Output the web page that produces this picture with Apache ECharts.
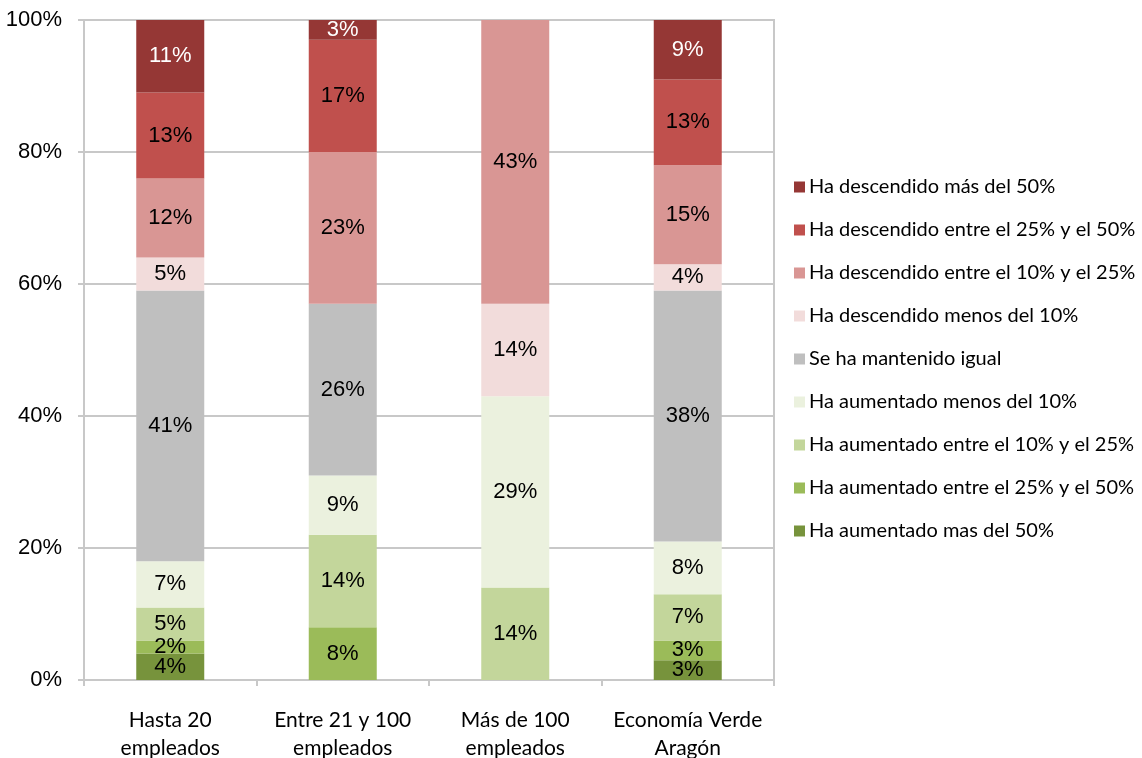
<!DOCTYPE html>
<html>
<head>
<meta charset="utf-8">
<style>
  html, body { margin: 0; padding: 0; background: #ffffff; }
  #chart { width: 1142px; height: 758px; }
</style>
<script src="https://cdn.jsdelivr.net/npm/echarts@6/dist/echarts.min.js"></script>
</head>
<body>
<div id="chart"></div>
<script>
// Company size groups (x axis)
const categories = ['Hasta 20\nempleados', 'Entre 21 y 100\nempleados', 'Más de 100\nempleados', 'Economía Verde\nAragón'];

// Share of companies per answer, in % (stacked bottom to top)
const aumentadoMas50   = [4, null, null, 3];
const aumentado25a50   = [2, 8, null, 3];
const aumentado10a25   = [5, 14, 14, 7];
const aumentadoMenos10 = [7, 9, 29, 8];
const mantenido        = [41, 26, null, 38];
const descendidoMenos10 = [5, null, 14, 4];
const descendido10a25  = [12, 23, 43, 15];
const descendido25a50  = [13, 17, null, 13];
const descendidoMas50  = [11, 3, null, 9];

const yTicks = [0, 20, 40, 60, 80, 100];

const seriesDefs = [
  { name: 'Ha aumentado mas del 50%', data: aumentadoMas50, color: '#77933C', text: '#000' },
  { name: 'Ha aumentado entre el 25% y el 50%', data: aumentado25a50, color: '#9BBB59', text: '#000' },
  { name: 'Ha aumentado entre el 10% y el 25%', data: aumentado10a25, color: '#C3D69B', text: '#000' },
  { name: 'Ha aumentado menos del 10%', data: aumentadoMenos10, color: '#EBF1DE', text: '#000' },
  { name: 'Se ha mantenido igual', data: mantenido, color: '#BFBFBF', text: '#000' },
  { name: 'Ha descendido menos del 10%', data: descendidoMenos10, color: '#F2DCDB', text: '#000' },
  { name: 'Ha descendido entre el 10% y el 25%', data: descendido10a25, color: '#D99694', text: '#000' },
  { name: 'Ha descendido entre el 25% y el 50%', data: descendido25a50, color: '#C0504D', text: '#000' },
  { name: 'Ha descendido más del 50%', data: descendidoMas50, color: '#953735', text: '#fff' }
];

const chart = echarts.init(document.getElementById('chart'), null, { renderer: 'canvas' });

const option = {
  animation: false,
  backgroundColor: '#ffffff',
  grid: {
    left: 84, right: 368, top: 20, bottom: 78,
    outerBoundsMode: 'none',
    containLabel: false,
    show: true, borderColor: '#c8c8c8', borderWidth: 2, backgroundColor: 'transparent'
  },
  legend: {
    orient: 'vertical',
    left: 789,
    top: 171,
    itemWidth: 11,
    itemHeight: 11,
    itemGap: 21,
    icon: 'rect',
    data: seriesDefs.map(s => s.name).reverse(),
    textStyle: { fontFamily: 'Lato', fontSize: 20, color: '#000', lineHeight: 22, padding: [0, 0, 0, -1] }
  },
  xAxis: {
    type: 'category',
    data: categories,
    axisLine: { show: true, lineStyle: { color: '#c8c8c8', width: 2 } },
    axisTick: { show: true, length: 6, alignWithLabel: false, lineStyle: { color: '#c8c8c8', width: 2 } },
    axisLabel: {
      fontFamily: 'Lato', fontSize: 21, color: '#000', lineHeight: 28, margin: 26,
      interval: 0
    }
  },
  yAxis: {
    type: 'value',
    min: 0, max: 100, interval: 20,
    axisLine: { show: true, lineStyle: { color: '#c8c8c8', width: 2 } },
    axisTick: { show: true, length: 6, lineStyle: { color: '#c8c8c8', width: 2 } },
    splitLine: { show: true, lineStyle: { color: '#c8c8c8', width: 2 } },
    axisLabel: {
      fontFamily: 'Liberation Sans, Arial', fontSize: 22, color: '#000', margin: 22,
      formatter: v => yTicks.includes(v) ? v + '%' : ''
    }
  },
  series: seriesDefs.map(s => ({
    name: s.name,
    type: 'bar',
    stack: 'total',
    barWidth: 68,
    data: s.data,
    itemStyle: { color: s.color },
    emphasis: { disabled: true },
    label: {
      show: true,
      position: 'inside',
      fontFamily: 'Liberation Sans, Arial',
      fontSize: 22,
      color: s.text,
      formatter: p => (p.value == null ? '' : p.value + '%')
    }
  }))
};

chart.setOption(option);
</script>
</body>
</html>
